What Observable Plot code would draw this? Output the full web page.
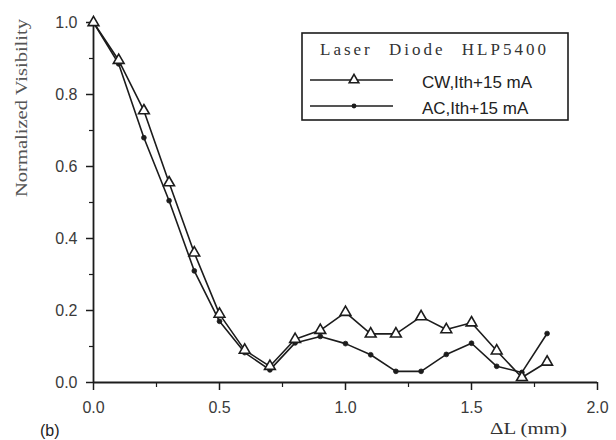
<!DOCTYPE html>
<html><head><meta charset="utf-8">
<script src="https://cdn.jsdelivr.net/npm/d3@7"></script>
<script src="https://cdn.jsdelivr.net/npm/@observablehq/plot@0.6"></script>
<style>
body{margin:0;background:#fff;}
#wrap{position:relative;width:616px;height:440px;overflow:hidden;}
#wrap svg{position:absolute;left:0;top:0;}
</style></head><body><div id="wrap"></div>
<script>
const dL    = [0.0,0.1,0.2,0.3,0.4,0.5,0.6,0.7,0.8,0.9,1.0,1.1,1.2,1.3,1.4,1.5,1.6,1.7,1.8];
const cwVis = [1.0,0.895,0.755,0.555,0.36,0.19,0.09,0.045,0.12,0.145,0.195,0.135,0.135,0.183,0.147,0.166,0.088,0.014,0.057];
const acVis = [1.0,0.885,0.68,0.505,0.31,0.17,0.083,0.035,0.11,0.128,0.108,0.077,0.031,0.031,0.078,0.109,0.045,0.028,0.136];
const xTicks = [0,0.5,1,1.5,2];
const xMinor = [0.25,0.75,1.25,1.75];
const yTicks = [0,0.2,0.4,0.6,0.8,1];
const yMinor = [0.1,0.3,0.5,0.7,0.9];
const seriesNames = ["CW,Ith+15 mA","AC,Ith+15 mA"];
const legendTitle = "Laser Diode HLP5400";
const xLabel = "ΔL (mm)";
const yLabel = "Normalized Visibility";
const panelTag = "(b)";

const ink = "#1c1c1c";
const cw = dL.map((x,i)=>({x, y: cwVis[i]}));
const ac = dL.map((x,i)=>({x, y: acVis[i]}));

const chart = Plot.plot({
  width: 616, height: 440,
  marginLeft: 93, marginRight: 19, marginTop: 22, marginBottom: 58,
  style: {fontFamily: "Liberation Sans, Arial, sans-serif", fontSize: "16px", color: "#333", background: "transparent"},
  x: {domain: [0, 2]},
  y: {domain: [0, 1]},
  marks: [
    Plot.axisX({ticks: xTicks, tickSize: 8, tickPadding: 11, fontSize: 16, tickFormat: d3.format(".1f"), label: null, stroke: ink, strokeWidth: 1.5, fill: "#3a3a3a", style: "letter-spacing:3.5px"}),
    Plot.axisX({ticks: xMinor, tickSize: 5, tickFormat: () => "", label: null, stroke: ink, strokeWidth: 1.2}),
    Plot.axisY({ticks: yTicks, tickSize: 7, tickPadding: 9, fontSize: 16, tickFormat: d3.format(".1f"), label: null, stroke: ink, strokeWidth: 1.5, fill: "#3a3a3a", style: "letter-spacing:1px"}),
    Plot.axisY({ticks: yMinor, tickSize: 4, tickFormat: () => "", label: null, stroke: ink, strokeWidth: 1.2}),
    Plot.ruleY([0], {stroke: ink, strokeWidth: 1.8}),
    Plot.ruleX([0], {stroke: ink, strokeWidth: 1.8}),
    Plot.line(ac, {x: "x", y: "y", stroke: ink, strokeWidth: 1.6}),
    Plot.line(cw, {x: "x", y: "y", stroke: ink, strokeWidth: 1.6}),
    Plot.dot(ac, {x: "x", y: "y", r: 2.4, fill: ink, stroke: ink, strokeWidth: 0.8}),
    Plot.dot(cw, {x: "x", y: "y", r: 4, symbol: "triangle", fill: "white", stroke: ink, strokeWidth: 1.6})
  ]
});
document.getElementById("wrap").appendChild(chart);

// overlay for labels and legend
const ov = d3.select("#wrap").append("svg").attr("width", 616).attr("height", 440)
  .style("font-family", "Liberation Sans, Arial, sans-serif");

ov.append("text").text(yLabel)
  .attr("transform", "translate(27,108) rotate(-90)")
  .attr("text-anchor", "middle")
  .attr("font-family", "Liberation Serif, Times New Roman, serif")
  .attr("font-size", 17).attr("fill", "#555")
  .attr("textLength", 178).attr("lengthAdjust", "spacingAndGlyphs");

ov.append("text").text(panelTag).attr("x", 40).attr("y", 436)
  .attr("font-size", 16).attr("fill", "#222");

ov.append("text").text(xLabel).attr("x", 490).attr("y", 434)
  .attr("font-family", "Liberation Serif, Times New Roman, serif")
  .attr("font-size", 17).attr("fill", "#333")
  .attr("textLength", 77).attr("lengthAdjust", "spacingAndGlyphs");

// legend box
const lg = ov.append("g");
lg.append("rect").attr("x", 302).attr("y", 33).attr("width", 266).attr("height", 87)
  .attr("fill", "white").attr("stroke", ink).attr("stroke-width", 1.6);
lg.append("text").text(legendTitle).attr("x", 320).attr("y", 55)
  .attr("font-family", "Liberation Serif, Times New Roman, serif")
  .attr("font-size", 17).attr("fill", "#333")
  .style("letter-spacing", "3px").style("word-spacing", "9px");
const rowsY = [80, 106];
rowsY.forEach((yy, i) => {
  lg.append("line").attr("x1", 310).attr("x2", 393).attr("y1", yy).attr("y2", yy)
    .attr("stroke", ink).attr("stroke-width", 1.6);
  if (i === 0) {
    lg.append("path").attr("d", d3.symbol(d3.symbolTriangle, 40)())
      .attr("transform", `translate(354,${yy})`).attr("fill", "white")
      .attr("stroke", ink).attr("stroke-width", 1.6);
  } else {
    lg.append("circle").attr("cx", 354).attr("cy", yy).attr("r", 2.4).attr("fill", ink);
  }
  lg.append("text").text(seriesNames[i]).attr("x", 422).attr("y", yy + 8)
    .attr("font-size", 17).attr("fill", "#222");
});
</script></body></html>
